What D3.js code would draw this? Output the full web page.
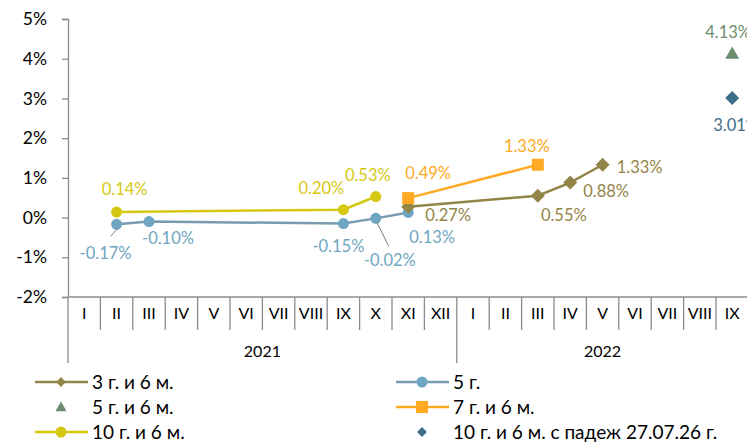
<!DOCTYPE html>
<html>
<head>
<meta charset="utf-8">
<script src="https://cdn.jsdelivr.net/npm/d3@7/dist/d3.min.js"></script>
<style>
  body { margin: 0; background: #fff; }
  svg { display: block; font-family: Lato, "Open Sans", sans-serif; }
</style>
</head>
<body>
<svg id="chart"></svg>
<script>
// categories: months 2021 + months 2022 (up to IX)
var months = ["I","II","III","IV","V","VI","VII","VIII","IX","X","XI","XII",
              "I","II","III","IV","V","VI","VII","VIII","IX"];
var years = ["2021", "2022"];
var yTicks = [-2, -1, 0, 1, 2, 3, 4, 5];

// series values in %, null = no auction
var s3y6m = [null,null,null,null,null,null,null,null,null,null,0.27,null,
             null,null,0.55,0.88,1.33,null,null,null,null];
var s5y = [null,-0.17,-0.10,null,null,null,null,null,-0.15,-0.02,0.13,null,
           null,null,null,null,null,null,null,null,null];
var s5y6m = [null,null,null,null,null,null,null,null,null,null,null,null,
             null,null,null,null,null,null,null,null,4.13];
var s7y6m = [null,null,null,null,null,null,null,null,null,null,0.49,null,
             null,null,1.33,null,null,null,null,null,null];
var s10y6m = [null,0.14,null,null,null,null,null,null,0.20,0.53,null,null,
              null,null,null,null,null,null,null,null,null];
var s10y6mMat = [null,null,null,null,null,null,null,null,null,null,null,null,
                 null,null,null,null,null,null,null,null,3.01];

var width = 747,
    height = 444,
    mLeft = 68,
    mTop = 19,
    mBottom = 297,
    catW = 32.4;

var svg = d3.select("#chart")
    .attr("width", width)
    .attr("height", height);

var x = d3.scaleBand()
    .domain(d3.range(months.length))
    .range([mLeft, mLeft + catW * months.length]);

var y = d3.scaleLinear()
    .domain([-2, 5])
    .range([mBottom, mTop]);

var axisColor = "#8c8c8c";

// y axis
var yAxis = svg.append("g")
    .attr("transform", "translate(" + mLeft + ",0)")
    .call(d3.axisLeft(y).tickValues(yTicks).tickSize(6).tickPadding(15)
        .tickFormat(function (d) { return d + "%"; }));
yAxis.select(".domain").attr("stroke", axisColor).attr("stroke-width", 1.3);
yAxis.selectAll(".tick line").attr("stroke", axisColor).attr("stroke-width", 1.3);
yAxis.selectAll(".tick text")
    .attr("fill", "#000")
    .style("font-size", "17.5px")
    .style("font-family", "Lato, sans-serif");
// extend y axis down through category rows
svg.append("line")
    .attr("x1", mLeft).attr("x2", mLeft)
    .attr("y1", mBottom).attr("y2", 363)
    .attr("stroke", axisColor).attr("stroke-width", 1.3);

// x axis baseline
svg.append("line")
    .attr("x1", mLeft).attr("x2", x.range()[1])
    .attr("y1", y(-2)).attr("y2", y(-2))
    .attr("stroke", axisColor).attr("stroke-width", 1.3);

// month separators and labels
var xg = svg.append("g");
months.forEach(function (m, i) {
    var xr = x(i) + x.bandwidth();
    var isYearEnd = (i === 11);
    xg.append("line")
        .attr("x1", xr).attr("x2", xr)
        .attr("y1", mBottom).attr("y2", isYearEnd ? 363 : 330)
        .attr("stroke", axisColor).attr("stroke-width", 1.3);
    xg.append("text")
        .attr("x", x(i) + x.bandwidth() / 2)
        .attr("y", 319)
        .attr("text-anchor", "middle")
        .style("font-size", "16px")
        .attr("fill", "#000")
        .text(m);
});
// year labels centred over the months present for each year
years.forEach(function (yr, j) {
    var first = j * 12;
    var last = Math.min(first + 11, months.length - 1);
    var x0 = x(first), x1 = x(last) + x.bandwidth();
    xg.append("text")
        .attr("x", (x0 + x1) / 2)
        .attr("y", 357)
        .attr("text-anchor", "middle")
        .style("font-size", "16px")
        .attr("fill", "#000")
        .text(yr);
});

// series definitions (labels: [index, dx, dy])
var series = [
    { name: "3 г. и 6 м.", values: s3y6m, color: "#938447", line: true, marker: "diamond",
      labels: [[10, 40, 8], [14, 26, 19], [15, 36, 9], [16, 37, 2]] },
    { name: "5 г.", values: s5y, color: "#6FA6C1", lineColor: "#779DAE", line: true, marker: "circle",
      labels: [[1, -11, 29], [2, 19, 17], [8, -5, 23], [9, 14, 42], [10, 24, 25]],
      leaders: [[1, -6, 12], [9, 13, 28]] },
    { name: "5 г. и 6 м.", values: s5y6m, color: "#6B8E6F", line: false, marker: "triangle",
      labels: [[20, -4, -21]] },
    { name: "7 г. и 6 м.", values: s7y6m, color: "#FFAA22", line: true, marker: "square",
      labels: [[10, 20, -25], [14, -11, -19]] },
    { name: "10 г. и 6 м.", values: s10y6m, color: "#D4C811", line: true, marker: "circle",
      labels: [[1, 8, -23], [8, -22, -21], [9, -8, -21]] },
    { name: "10 г. и 6 м. с падеж 27.07.26 г.", values: s10y6mMat, color: "#3D6E88", line: false, marker: "diamond",
      labels: [[20, 4, 27]] }
];

function drawMarker(g, type, color, cx, cy, scale) {
    var s = scale || 1;
    if (type === "circle") {
        g.append("circle").attr("cx", cx).attr("cy", cy).attr("r", 5.5 * s).attr("fill", color);
    } else if (type === "square") {
        g.append("rect").attr("x", cx - 6 * s).attr("y", cy - 6 * s)
            .attr("width", 12 * s).attr("height", 12 * s).attr("fill", color);
    } else if (type === "diamond") {
        var r = 7 * s;
        g.append("path")
            .attr("d", "M" + cx + "," + (cy - r) + "L" + (cx + r) + "," + cy + "L" + cx + "," + (cy + r) + "L" + (cx - r) + "," + cy + "Z")
            .attr("fill", color);
    } else if (type === "triangle") {
        var t = 7 * s;
        g.append("path")
            .attr("d", "M" + cx + "," + (cy - t) + "L" + (cx + t) + "," + (cy + t * 0.75) + "L" + (cx - t) + "," + (cy + t * 0.75) + "Z")
            .attr("fill", color);
    }
}

var plot = svg.append("g");
var lineGen = d3.line()
    .x(function (d) { return x(d.i) + x.bandwidth() / 2; })
    .y(function (d) { return y(d.v); });

// draw order: 5y, 10y6m, 3y6m, 7y6m, singles
var order = [1, 4, 0, 3, 2, 5];
order.forEach(function (k) {
    var s = series[k];
    var pts = s.values.map(function (v, i) { return { i: i, v: v }; })
        .filter(function (d) { return d.v !== null; });
    if (s.line && pts.length > 1) {
        plot.append("path")
            .attr("d", lineGen(pts))
            .attr("fill", "none")
            .attr("stroke", s.lineColor || s.color)
            .attr("stroke-width", 2.5);
    }
    pts.forEach(function (d) {
        drawMarker(plot, s.marker, s.color, x(d.i) + x.bandwidth() / 2, y(d.v), 1);
    });
});

// leader lines
series.forEach(function (s) {
    if (!s.leaders) return;
    s.leaders.forEach(function (l) {
        var cx = x(l[0]) + x.bandwidth() / 2, cy = y(s.values[l[0]]);
        plot.append("line")
            .attr("x1", cx + 1).attr("y1", cy + 4)
            .attr("x2", cx + l[1]).attr("y2", cy + l[2])
            .attr("stroke", "#7f7f7f").attr("stroke-width", 1);
    });
});

// data labels
series.forEach(function (s) {
    s.labels.forEach(function (l) {
        var v = s.values[l[0]];
        plot.append("text")
            .attr("x", x(l[0]) + x.bandwidth() / 2 + l[1])
            .attr("y", y(v) + l[2])
            .attr("text-anchor", "middle")
            .attr("dy", "0.35em")
            .style("font-size", "16.5px")
            .attr("fill", s.color)
            .text(v.toFixed(2) + "%");
    });
});

// legend
var legendRows = [
    [0, 35, 382], [1, 396, 382],
    [2, 35, 407], [3, 396, 407],
    [4, 35, 432], [5, 396, 432]
];
var lg = svg.append("g");
legendRows.forEach(function (r) {
    var s = series[r[0]], lx = r[1], ly = r[2];
    if (s.line) {
        lg.append("line")
            .attr("x1", lx).attr("x2", lx + 53)
            .attr("y1", ly).attr("y2", ly)
            .attr("stroke", s.lineColor || s.color).attr("stroke-width", 2.5);
    }
    var ms = s.marker === "diamond" ? 0.7 : (s.marker === "triangle" ? 0.8 : 1);
    drawMarker(lg, s.marker, s.color, lx + 26, ly, ms);
    lg.append("text")
        .attr("x", lx + 57)
        .attr("y", ly)
        .attr("dy", "0.35em")
        .style("font-size", "19px")
        .attr("fill", "#000")
        .text(s.name);
});
</script>
</body>
</html>
